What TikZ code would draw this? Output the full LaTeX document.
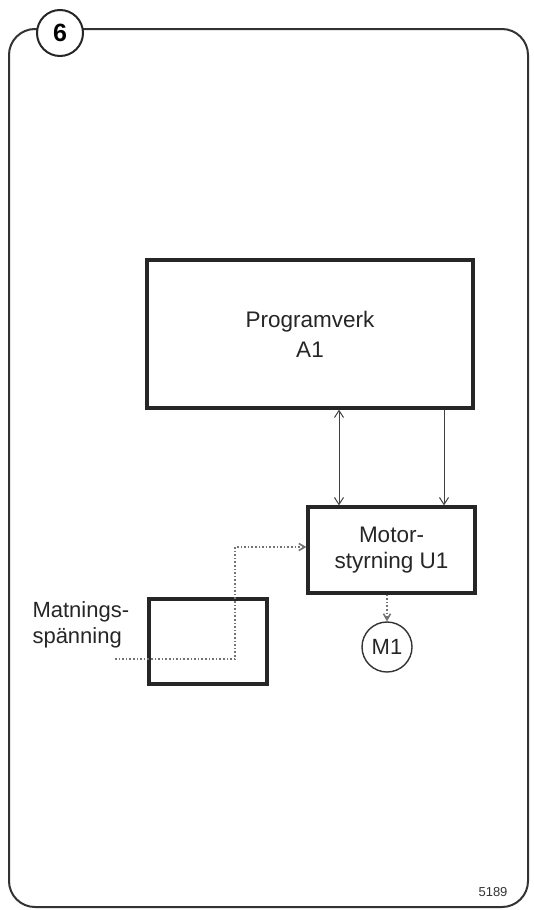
\documentclass[tikz,border=0pt]{standalone}
\usepackage{fontspec}
\setmainfont{Liberation Sans}
\usetikzlibrary{arrows.meta, positioning}

\begin{document}
\begin{tikzpicture}[x=1pt, y=-1pt,
        blk/.style={rectangle, draw=black!85, line width=3.2pt, fill=white,
                    align=center, font=\fontsize{22.5}{26}\selectfont, text=black!85},
        lab/.style={font=\fontsize{22}{26}\selectfont, text=black!85},
        arr/.style={-{Straight Barb[length=7pt,width=9pt]}, line width=1pt, black!75},
        dots/.style={dotted, line width=1.6pt, black!55},
        frame/.style={draw=black!80, line width=2pt, rounded corners=26pt}]
      \useasboundingbox (0,0) rectangle (534,910);
      \draw[frame] (9,29) rectangle (528,907);
      \node[circle, draw=black!85, line width=2pt, fill=white, minimum size=46pt,
            inner sep=0pt, font=\fontsize{25}{25}\selectfont\bfseries] (num) at (60,33) {6};
      \node[blk, minimum width=326pt, minimum height=148pt] (prog) at (310,334) {Programverk\\[4pt]A1};
      \node[blk, minimum width=167pt, minimum height=86pt] (motor) at (391.5,550) {Motor-\\styrning U1};
      \node[blk, minimum width=118pt, minimum height=85pt] (supply) at (208,641.5) {};
      \node[circle, draw=black!80, line width=1.4pt, minimum size=50pt, inner sep=0pt,
            lab] (m1) at (387,647) {M1};
      \node[lab, align=left, anchor=west] (feedtxt) at (29,625) {Matnings-\\spänning};
      \node[font=\fontsize{13}{13}\selectfont, text=black!80] (code) at (493,892) {5189};
      % connectors
      \draw[arr, {Straight Barb[length=7pt,width=9pt]}-{Straight Barb[length=7pt,width=9pt]}]
        (prog.south -| 339,0) -- (motor.north -| 339,0);
      \draw[arr] (prog.south -| 444,0) -- (motor.north -| 444,0);
      \coordinate (feed) at (115,659);
      \coordinate (bend) at (235,547);
      \draw[dots, -{Straight Barb[length=6pt,width=7pt]}] (feed) -| (bend) -- (bend -| motor.west);
      \draw[dots, -{Straight Barb[length=6pt,width=7pt]}] (motor.south -| m1.north) -- (m1.north);
    \end{tikzpicture}
\end{document}
